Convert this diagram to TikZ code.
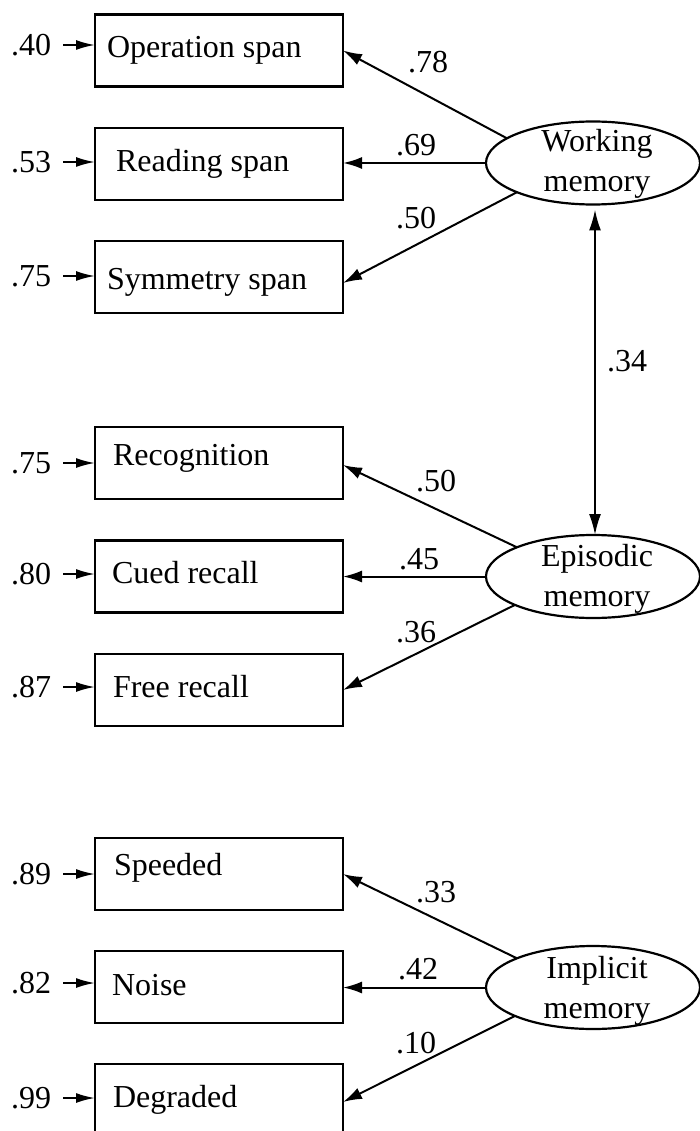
\documentclass[tikz,border=0pt]{standalone}
\usepackage{fontspec}
\setmainfont{Liberation Serif}
\usetikzlibrary{arrows.meta,shapes.geometric}
\begin{document}
\begin{tikzpicture}[x=1pt,y=-1pt,
  every node/.style={font=\fontsize{32}{39.5}\selectfont, inner sep=0pt, outer sep=0pt},
  box/.style={draw, line width=2.2pt, minimum width=248pt, minimum height=72pt},
  latent/.style={draw, ellipse, line width=2.2pt, minimum width=214pt, minimum height=83pt},
  load/.style={line width=2pt, -{Latex[length=19pt,width=12pt]}},
  resid/.style={line width=2pt, -{Latex[length=19pt,width=10pt]}, shorten <=12pt},
  corr/.style={line width=2pt, {Latex[length=21pt,width=12pt]}-{Latex[length=21pt,width=12pt]}},
  txt/.style={anchor=base west},
]
\useasboundingbox (0,0) rectangle (700,1131);

% observed boxes
\node[box] (b1) at (219,50.5) {};
\node[box] (b2) at (219,164) {};
\node[box] (b3) at (219,277) {};
\node[box] (b4) at (219,463) {};
\node[box] (b5) at (219,576.5) {};
\node[box] (b6) at (219,690) {};
\node[box] (b7) at (219,874) {};
\node[box] (b8) at (219,987) {};
\node[box] (b9) at (219,1100) {};

% box texts
\node[txt] (t1) at (107,58) {Operation span};
\node[txt] (t2) at (116,172) {Reading span};
\node[txt] (t3) at (107,290) {Symmetry span};
\node[txt] (t4) at (113,465) {Recognition};
\node[txt] (t5) at (112,583) {Cued recall};
\node[txt] (t6) at (113,697) {Free recall};
\node[txt] (t7) at (114,875) {Speeded};
\node[txt] (t8) at (112,995) {Noise};
\node[txt] (t9) at (113,1107) {Degraded};

% latent variables
\node[latent] (wm) at (593,163) {};
\node[align=center] (wmt) at (597,164) {Working\\memory};
\node[latent] (em) at (593,576.5) {};
\node[align=center] (emt) at (597,579) {Episodic\\memory};
\node[latent] (im) at (593,987.5) {};
\node[align=center] (imt) at (597,991) {Implicit\\memory};

% loadings
\draw[load] (wm.164.6) -- (b1.east);
\draw[load] (wm.west) -- (wm.west -| b2.east);
\draw[load] (wm.201.7) -- ([yshift=-6pt]b3.east);
\draw[load] (em.159.8) -- ([yshift=-2pt]b4.east);
\draw[load] (em.west) -- (em.west -| b5.east);
\draw[load] (em.200.9) -- (b6.east);
\draw[load] (im.159.1) -- (b7.east);
\draw[load] (im.west) -- (im.west -| b8.east);
\draw[load] (im.200.2) -- ([yshift=-2pt]b9.east);

% correlation
\draw[corr] ([shift={(2pt,-5pt)}]wm.south) -- ([xshift=2pt]em.north);

% coefficient labels
\node (c1) at (428,62) {.78};
\node (c2) at (416,145) {.69};
\node (c3) at (416,218) {.50};
\node (c4) at (627,361) {.34};
\node (c5) at (436,481) {.50};
\node (c6) at (419,559) {.45};
\node (c7) at (416,632) {.36};
\node (c8) at (436,892) {.33};
\node (c9) at (418,969) {.42};
\node (c10) at (416,1043) {.10};

% residuals
\node (r1) at (31,45) {.40};
\node (r2) at (31,162) {.53};
\node (r3) at (31,276) {.75};
\node (r4) at (31,463) {.75};
\node (r5) at (31,574) {.80};
\node (r6) at (31,687) {.87};
\node (r7) at (31,874) {.89};
\node (r8) at (31,983) {.82};
\node (r9) at (31,1098) {.99};
\foreach \i in {1,...,9}{
  \draw[resid] (r\i.east) -- (r\i.east -| b\i.west);
}
\end{tikzpicture}
\end{document}
